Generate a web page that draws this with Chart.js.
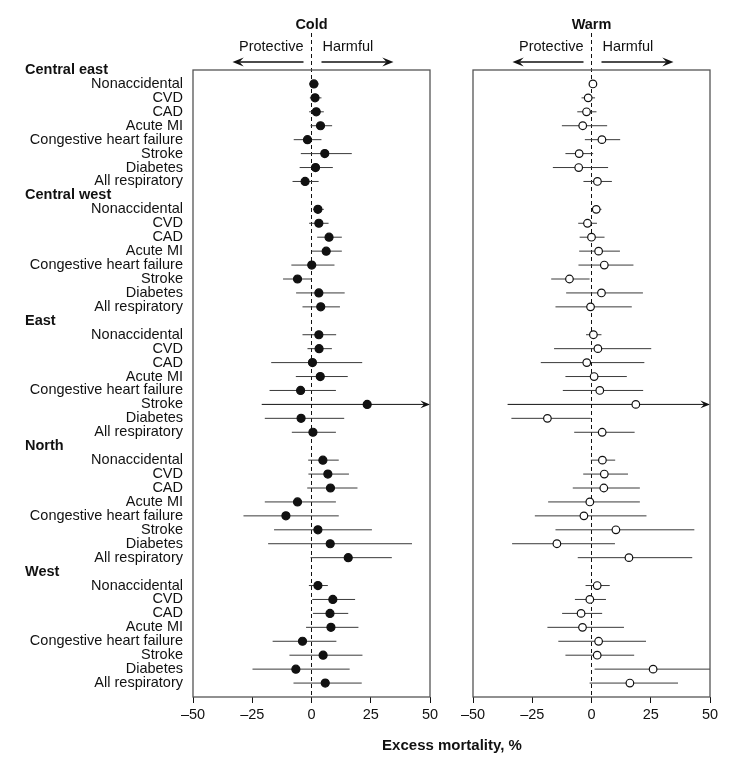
<!DOCTYPE html>
<html lang="en">
<head>
<meta charset="UTF-8">
<title>Excess mortality by region, cold and warm</title>
<script src="https://cdn.jsdelivr.net/npm/chart.js"></script>
<style>
  body { margin: 0; background: #fff; }
  .wrap { position: relative; width: 733px; height: 759px; }
  .wrap canvas { position: absolute; left: 0; top: 0; }
</style>
</head>
<body>
<div class="wrap">
  <canvas id="coldChart" width="733" height="759"></canvas>
  <canvas id="warmChart" width="733" height="759"></canvas>
</div>
<script>
// rows: each region is a header row followed by its 8 outcomes
const regions = ["Central east", "Central west", "East", "North", "West"];
const outcomes = ["Nonaccidental", "CVD", "CAD", "Acute MI", "Congestive heart failure",
                  "Stroke", "Diabetes", "All respiratory"];
const xTicks = [-50, -25, 0, 25, 50];

// cold: estimate, lower and upper bound (region by region, 8 outcomes each)
const coldEst = [
  1, 1.5, 2, 3.8, -1.7, 5.6, 1.7, -2.7,
  2.7, 3.1, 7.4, 6.2, 0.1, -5.9, 3.1, 3.9,
  3.1, 3.2, 0.4, 3.7, -4.6, 23.5, -4.4, 0.6,
  4.8, 6.9, 8.0, -5.9, -10.8, 2.7, 7.9, 15.5,
  2.7, 9.0, 7.8, 8.2, -3.8, 4.9, -6.6, 5.8
];
const coldLow = [
  -1, -0.7, -1, -0.4, -7.5, -4.5, -5, -8,
  0.7, -1, 2.4, 0, -8.5, -12, -6.5, -3.8,
  -3.8, -1.7, -17, -6.6, -17.7, -21, -19.7, -8.3,
  -1.4, -1.3, -1.8, -19.7, -28.7, -15.8, -18.3, -0.4,
  -1.1, 0.3, 0.6, -2.3, -16.4, -9.3, -24.9, -7.6
];
const coldHigh = [
  3, 4.2, 5.2, 8.7, 4.2, 17, 9, 3,
  5.2, 7.2, 12.8, 12.8, 9.7, 0.1, 14, 12,
  10.4, 8.6, 21.4, 15.3, 10.3, 60, 13.8, 10.3,
  11.5, 15.8, 19.4, 10.3, 11.5, 25.5, 42.4, 33.9,
  6.9, 18.4, 15.5, 19.8, 10.5, 21.5, 16.1, 21.2
];

// warm
const warmEst = [
  0.6, -1.4, -2.1, -3.7, 4.4, -5.2, -5.4, 2.5,
  2, -1.7, 0, 3, 5.4, -9.3, 4.2, -0.4,
  0.8, 2.7, -2, 1.1, 3.5, 18.7, -18.6, 4.5,
  4.6, 5.4, 5.2, -0.7, -3.2, 10.3, -14.6, 15.8,
  2.4, -0.7, -4.4, -3.8, 3, 2.4, 26, 16.2
];
const warmLow = [
  -1, -4.2, -6, -12.5, -2.8, -11, -16.3, -3.4,
  0.3, -5.6, -5, -5.2, -5.5, -17, -10.7, -15.2,
  -2.3, -15.8, -21.4, -11, -12.1, -35.4, -33.8, -7.3,
  -0.3, -3.5, -7.9, -18.3, -23.9, -15.2, -33.5, -5.8,
  -2.5, -7, -12.4, -18.6, -14, -11, 1.3, -0.8
];
const warmHigh = [
  2.2, 1.5, 2.1, 6.6, 12.1, 0.7, 7, 8.6,
  4.2, 2.3, 5.5, 12, 17.7, -0.8, 21.7, 17,
  4.2, 25.2, 22.3, 14.9, 21.8, 60, -0.3, 18.2,
  10, 15.4, 20.4, 20.4, 23.2, 43.4, 9.9, 42.5,
  7.7, 6.1, 4.5, 13.7, 23, 18, 50, 36.5
];

const FONT = "'Liberation Sans', Arial, Helvetica, sans-serif";
const INK = '#111';

// row index on the y scale for outcome i
function rowOf(i) {
  return Math.floor(i / outcomes.length) * (outcomes.length + 1) + 1 + (i % outcomes.length);
}

function arrow(ctx, x1, x2, y, head) {
  const dir = Math.sign(x2 - x1);
  ctx.beginPath();
  ctx.moveTo(x1, y);
  ctx.lineTo(x2 - dir * head, y);
  ctx.stroke();
  ctx.beginPath();
  ctx.moveTo(x2, y);
  ctx.lineTo(x2 - dir * head * 1.6, y - head * 0.65);
  ctx.lineTo(x2 - dir * head, y);
  ctx.lineTo(x2 - dir * head * 1.6, y + head * 0.65);
  ctx.closePath();
  ctx.fill();
}

function forestPlugin(title, low, high, withLabels) {
  return {
    id: 'forest',
    beforeDatasetsDraw(chart) {
      const { ctx, chartArea: a, scales: { x, y } } = chart;
      const x0 = x.getPixelForValue(0);
      ctx.save();
      // dashed zero line
      ctx.strokeStyle = INK;
      ctx.lineWidth = 1;
      ctx.setLineDash([4, 3]);
      ctx.beginPath();
      ctx.moveTo(x0, 33);
      ctx.lineTo(x0, a.bottom);
      ctx.stroke();
      ctx.setLineDash([]);
      // confidence intervals
      ctx.strokeStyle = '#3a3a3a';
      ctx.fillStyle = INK;
      for (let i = 0; i < low.length; i++) {
        const py = y.getPixelForValue(rowOf(i));
        const lo = x.getPixelForValue(Math.max(low[i], x.min));
        const hi = x.getPixelForValue(Math.min(high[i], x.max));
        if (high[i] > x.max) {
          ctx.strokeStyle = INK;
          arrow(ctx, lo, hi, py, 6);
          ctx.strokeStyle = '#3a3a3a';
        } else {
          ctx.beginPath();
          ctx.moveTo(lo, py);
          ctx.lineTo(hi, py);
          ctx.stroke();
        }
      }
      ctx.restore();
    },
    afterDraw(chart) {
      const { ctx, chartArea: a, scales: { x, y } } = chart;
      const x0 = x.getPixelForValue(0);
      ctx.save();
      // panel box
      ctx.strokeStyle = '#555';
      ctx.lineWidth = 1.3;
      ctx.strokeRect(a.left, a.top, a.right - a.left, a.bottom - a.top);
      // title
      ctx.fillStyle = INK;
      ctx.textBaseline = 'middle';
      ctx.textAlign = 'center';
      ctx.font = 'bold 14.5px ' + FONT;
      ctx.fillText(title, x0, 25);
      // protective / harmful
      ctx.font = '14.5px ' + FONT;
      ctx.textAlign = 'right';
      ctx.fillText('Protective', x0 - 8, 47);
      ctx.textAlign = 'left';
      ctx.fillText('Harmful', x0 + 11, 47);
      ctx.strokeStyle = INK;
      ctx.lineWidth = 1.5;
      arrow(ctx, x0 - 8, x0 - 79, 62, 7);
      arrow(ctx, x0 + 10, x0 + 82, 62, 7);
      if (withLabels) {
        regions.forEach((r, ri) => {
          const base = ri * (outcomes.length + 1);
          ctx.font = 'bold 14.5px ' + FONT;
          ctx.textAlign = 'left';
          ctx.fillText(r, 25, y.getPixelForValue(base));
          ctx.font = '14.5px ' + FONT;
          ctx.textAlign = 'right';
          outcomes.forEach((o, k) => {
            ctx.fillText(o, 183, y.getPixelForValue(base + 1 + k));
          });
        });
        ctx.font = 'bold 15px ' + FONT;
        ctx.textAlign = 'center';
        ctx.fillText('Excess mortality, %', 452, 746);
      }
      ctx.restore();
    }
  };
}

function makeChart(id, title, est, low, high, padLeft, padRight, filled, withLabels) {
  const points = est.map((v, i) => ({ x: v, y: rowOf(i) }));
  return new Chart(document.getElementById(id), {
    type: 'scatter',
    data: {
      datasets: [{
        label: title,
        data: points,
        pointRadius: filled ? 4 : 3.8,
        pointHoverRadius: 4,
        pointBorderWidth: 1.2,
        pointBackgroundColor: filled ? INK : '#fff',
        pointBorderColor: INK
      }]
    },
    options: {
      responsive: false,
      animation: false,
      events: [],
      layout: { padding: { left: padLeft, right: padRight, top: 70, bottom: 0 } },
      plugins: { legend: { display: false }, tooltip: { enabled: false } },
      scales: {
        x: {
          type: 'linear',
          min: -50,
          max: 50,
          afterBuildTicks(scale) { scale.ticks = xTicks.map(v => ({ value: v })); },
          afterFit(scale) { scale.height = 62; },
          border: { display: false },
          grid: { drawOnChartArea: false, drawTicks: true, tickLength: 6, color: INK, lineWidth: 1 },
          ticks: {
            color: INK,
            padding: 3,
            maxRotation: 0,
            font: { family: FONT, size: 14.5 },
            callback: v => v < 0 ? '\u2013' + Math.abs(v) : String(v)
          }
        },
        y: {
          type: 'linear',
          min: 0,
          max: 45,
          reverse: true,
          display: false
        }
      }
    },
    plugins: [forestPlugin(title, low, high, withLabels)]
  });
}

makeChart('coldChart', 'Cold', coldEst, coldLow, coldHigh, 193, 303, true, true);
makeChart('warmChart', 'Warm', warmEst, warmLow, warmHigh, 473, 23, false, false);
</script>
</body>
</html>
